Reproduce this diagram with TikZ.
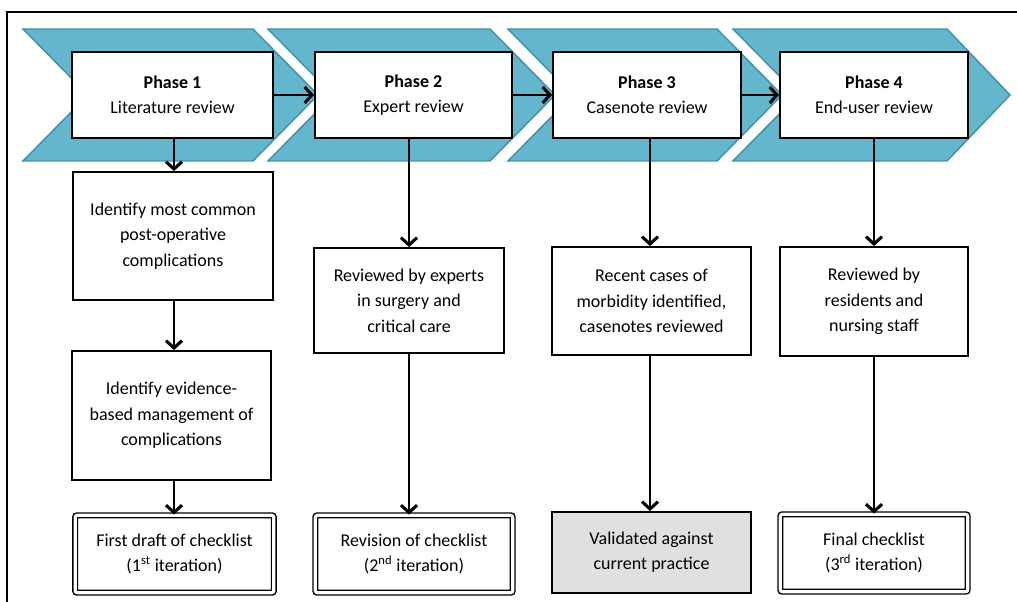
\documentclass[tikz,border=0pt]{standalone}
\usepackage{fontspec}
\setmainfont{Carlito}
\usetikzlibrary{arrows.meta}
\definecolor{chevfill}{RGB}{100,182,205}
\definecolor{chevline}{RGB}{68,144,170}
\definecolor{valgray}{RGB}{224,224,224}
\begin{document}
\begin{tikzpicture}[x=0.75pt,y=-0.75pt,
  chev/.style={fill=chevfill,draw=chevline,line width=1.1pt},
  phasebox/.style={draw=black,fill=white,line width=1.4pt,align=center,inner sep=0pt,
    font=\fontsize{13.5}{19}\selectfont},
  stepbox/.style={draw=black,fill=white,line width=1.4pt,align=center,inner sep=0pt,
    font=\fontsize{13.5}{19}\selectfont},
  finalbox/.style={draw=black,double=white,double distance=2.4pt,line width=1.1pt,
    rounded corners=1.5pt,align=center,inner sep=0pt,fill=white,
    font=\fontsize{13.5}{19}\selectfont},
  valbox/.style={draw=black,fill=valgray,line width=1.4pt,align=center,inner sep=0pt,
    font=\fontsize{13.5}{19}\selectfont},
  arr/.style={line width=1.7pt,-{Straight Barb[length=5.5pt,width=12pt,line width=2.3pt]}}
]
\useasboundingbox (0,0) rectangle (1017,602);
% frame
\draw[line width=1.5pt] (1017,12) -- (7,12) -- (7,602);
% chevrons
\draw[chev] (23,29) -- (253,29) -- (318,95) -- (253,161) -- (23,161) -- (88,95) -- cycle;
\draw[chev] (268,29) -- (490,29) -- (555,95) -- (490,161) -- (268,161) -- (333,95) -- cycle;
\draw[chev] (508,29) -- (717,29) -- (782,95) -- (717,161) -- (508,161) -- (573,95) -- cycle;
\draw[chev] (733,29) -- (947,29) -- (1010,95) -- (947,161) -- (733,161) -- (798,95) -- cycle;
% phase boxes
\node[phasebox,minimum width=150.75pt,minimum height=64.5pt] (p1) at (172.5,95)
  {\textbf{Phase 1}\\Literature review};
\node[phasebox,minimum width=147.75pt,minimum height=64.5pt] (p2) at (413.5,95)
  {\textbf{Phase 2}\\Expert review};
\node[phasebox,minimum width=141pt,minimum height=64.5pt] (p3) at (647,95)
  {\textbf{Phase 3}\\Casenote review};
\node[phasebox,minimum width=141pt,minimum height=64.5pt] (p4) at (874,95)
  {\textbf{Phase 4}\\End-user review};
% column 1
\node[stepbox,minimum width=150pt,minimum height=96pt] (a1) at (173,236)
  {Identify most common\\post-operative\\complications};
\node[stepbox,minimum width=149.25pt,minimum height=96.75pt] (b1) at (171.5,415.5)
  {Identify evidence-\\based management of\\complications};
\node[finalbox,minimum width=149pt,minimum height=58pt] (f1) at (174.5,554)
  {First draft of checklist\\(1\textsuperscript{st} iteration)};
% column 2
\node[stepbox,minimum width=142.5pt,minimum height=78.75pt] (a2) at (409,300.5)
  {Reviewed by experts\\in surgery and\\critical care};
\node[finalbox,minimum width=148pt,minimum height=58pt] (f2) at (414,554)
  {Revision of checklist\\(2\textsuperscript{nd} iteration)};
% column 3
\node[stepbox,minimum width=149.25pt,minimum height=81pt] (a3) at (651.5,301)
  {Recent cases of\\morbidity identified,\\casenotes reviewed};
\node[valbox,minimum width=149.25pt,minimum height=60.75pt] (f3) at (651.5,552.5)
  {Validated against\\current practice};
% column 4
\node[stepbox,minimum width=141pt,minimum height=81.75pt] (a4) at (874,301.5)
  {Reviewed by\\residents and\\nursing staff};
\node[finalbox,minimum width=140.5pt,minimum height=58pt] (f4) at (874,553)
  {Final checklist\\(3\textsuperscript{rd} iteration)};
% horizontal arrows
\draw[arr] (p1.east) -- (p2.west);
\draw[arr] (p2.east) -- (p3.west);
\draw[arr] (p3.east) -- (p4.west);
% vertical arrows
\coordinate (c1) at (174,0);
\coordinate (c2) at (409,0);
\coordinate (c3) at (650,0);
\coordinate (c4) at (874,0);
\draw[arr] (c1 |- p1.south) -- (c1 |- a1.north);
\draw[arr] (c1 |- a1.south) -- (c1 |- b1.north);
\draw[arr] (c1 |- b1.south) -- (c1 |- f1.north);
\draw[arr] (c2 |- p2.south) -- (c2 |- a2.north);
\draw[arr] (c2 |- a2.south) -- (c2 |- f2.north);
\draw[arr] (c3 |- p3.south) -- (c3 |- a3.north);
\draw[arr] (c3 |- a3.south) -- (c3 |- f3.north);
\draw[arr] (c4 |- p4.south) -- (c4 |- a4.north);
\draw[arr] (c4 |- a4.south) -- (c4 |- f4.north);
\end{tikzpicture}
\end{document}
